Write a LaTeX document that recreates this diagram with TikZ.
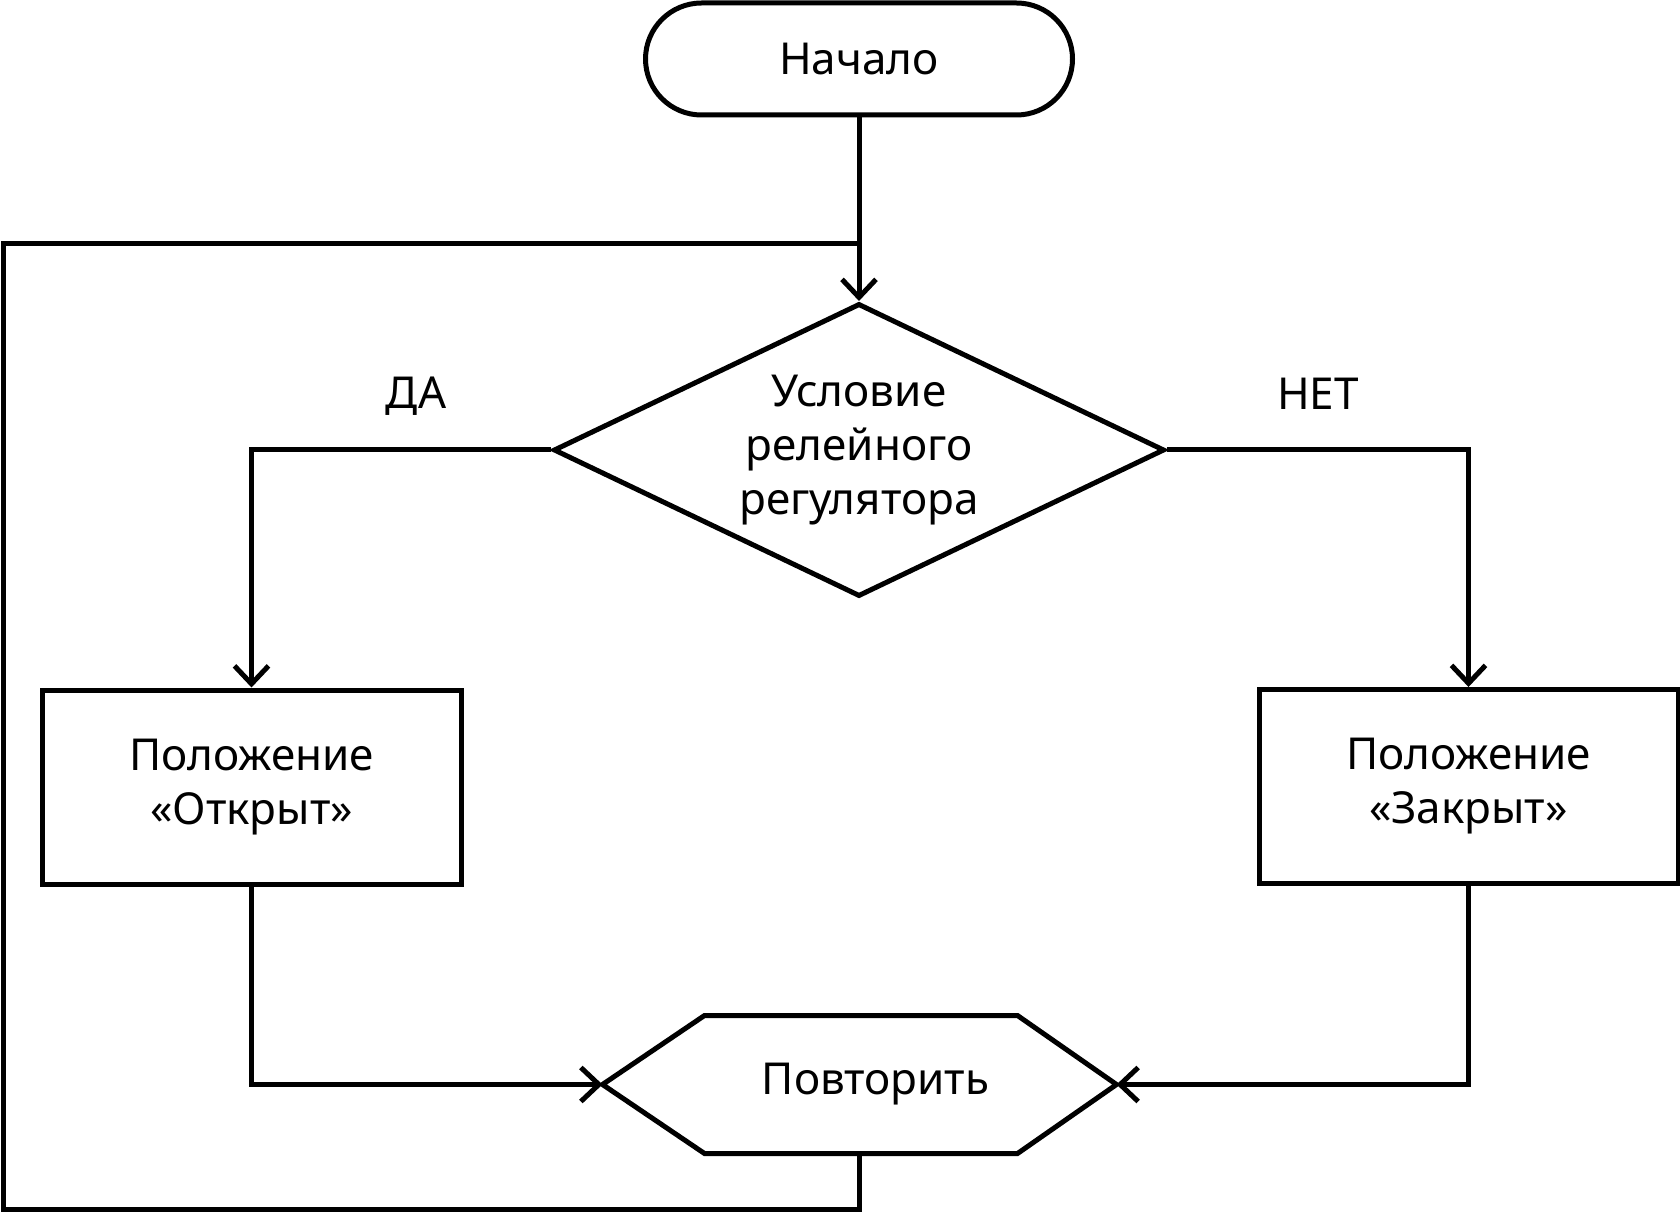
\documentclass[tikz,border=0pt]{standalone}
\usepackage{fontspec}
\setmainfont{Noto Sans}
\usetikzlibrary{arrows.meta,shapes.geometric}
\begin{document}
\begin{tikzpicture}[x=0.5pt,y=-0.5pt,
  line width=2.5pt,
  every node/.style={font=\fontsize{22}{27}\selectfont, align=center},
  arr/.style={-{Straight Barb[length=9pt 0,width=17pt 0]}},
  term/.style={draw, rectangle, rounded corners=28pt, minimum width=213.5pt, minimum height=56pt},
  cond/.style={draw, diamond, aspect=2, inner sep=0pt, minimum width=305.5pt, minimum height=146.5pt},
  boxx/.style={draw, rectangle, minimum width=209.5pt, minimum height=97pt},
  hexframe/.style={rectangle, inner sep=0pt, minimum width=254.5pt, minimum height=66.5pt}
]
\useasboundingbox (0,0) rectangle (1680,1213);

\node[term] (start) at (859,59) {Начало};
\node[cond] (cond) at (859,450) {Условие\\релейного\\регулятора};
\node[boxx] (open) at (251.5,787) {Положение\\«Открыт»};
\node[boxx] (close) at (1468.5,786.5) {Положение\\«Закрыт»};
\node[hexframe] (rep) at (859.5,1084.5) {\hspace*{16pt}Повторить};
\draw (rep.west) -- ([xshift=51pt]rep.north west) -- ([xshift=-49.5pt]rep.north east)
  -- (rep.east) -- ([xshift=-49.5pt]rep.south east) -- ([xshift=51pt]rep.south west) -- cycle;

\node (da) at (416,396) {ДА};
\node (net) at (1318,394) {НЕТ};

\coordinate (j) at (859,244);
\coordinate (lb) at (3,1209);

\draw[arr] (start.south) -- (cond.north);
\draw[arr] (cond.west) -| (open.north);
\draw[arr] (cond.east) -| (close.north);
\draw[arr] (open.south) |- (rep.west);
\draw[arr] (close.south) |- (rep.east);
\draw (rep.south) -- (rep.south |- lb) -- (lb) |- (j);
\end{tikzpicture}
\end{document}
